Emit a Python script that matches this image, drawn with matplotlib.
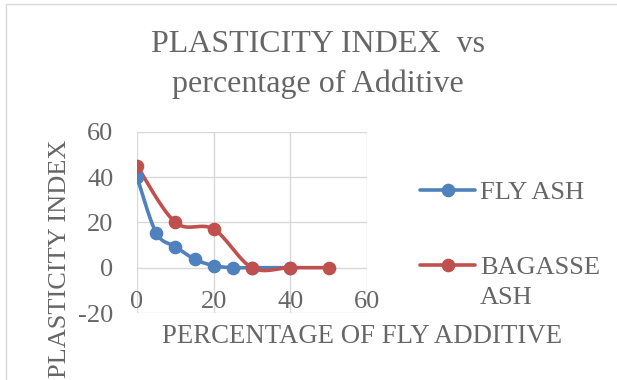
import numpy as np
import matplotlib
matplotlib.use("Agg")
import matplotlib.pyplot as plt
from matplotlib.lines import Line2D
from matplotlib.patches import Rectangle

plt.rcParams["axes.unicode_minus"] = False

# ---- data ----
fly_x = [0, 5, 10, 15, 20, 25, 30, 40]
fly_y = [40, 15.4, 9.3, 3.8, 0.9, 0, 0, 0]
bag_x = [0, 10, 20, 30, 40, 50]
bag_y = [45, 20, 17, 0, 0, 0]
x_ticks = [0, 20, 40, 60]
y_ticks = [-20, 0, 20, 40, 60]
series_names = ["FLY ASH", "BAGASSE\nASH"]
title = "PLASTICITY INDEX  vs\npercentage of Additive"
xlabel = "PERCENTAGE OF FLY ADDITIVE"
ylabel = "PLASTICITY INDEX"

W, H = 617, 380
TXT = "#666666"
GRID = "#d9d9d9"
FONT = ["Liberation Serif", "DejaVu Serif"]
BLUE = "#4F81BD"
RED = "#C0504D"


def smooth(xs, ys, n=30):
    """Excel-like smoothed line (Catmull-Rom Bezier)."""
    P = np.column_stack([xs, ys]).astype(float)
    out = []
    for i in range(len(P) - 1):
        p0 = P[i - 1] if i > 0 else P[i]
        p1 = P[i]
        p2 = P[i + 1]
        p3 = P[i + 2] if i + 2 < len(P) else P[i + 1]
        c1 = p1 + (p2 - p0) / 6.0
        c2 = p2 - (p3 - p1) / 6.0
        t = np.linspace(0, 1, n)[:, None]
        seg = ((1 - t) ** 3) * p1 + 3 * ((1 - t) ** 2) * t * c1 + 3 * (1 - t) * t ** 2 * c2 + t ** 3 * p2
        out.append(seg if i == 0 else seg[1:])
    A = np.vstack(out)
    return A[:, 0], A[:, 1]


fig = plt.figure(figsize=(W / 100, H / 100), dpi=100)
fig.patch.set_facecolor("white")

# chart border
fig.add_artist(Rectangle((6 / W, 0 - 0.1), 1.2, (1 - 4.3 / H) + 0.1,
                         transform=fig.transFigure, fill=False,
                         edgecolor=GRID, linewidth=1.0))

ax = fig.add_axes([137 / W, 1 - 313 / H, (367 - 137) / W, (313 - 131.7) / H])
ax.set_xlim(0, 60)
ax.set_ylim(-20, 60)
ax.set_xticks(x_ticks)
ax.set_yticks(y_ticks)
ax.grid(True, color=GRID, linewidth=1.0)
ax.set_axisbelow(True)
for s in ax.spines.values():
    s.set_visible(False)
ax.spines["bottom"].set_position(("data", 0))
ax.tick_params(length=0, labelsize=19, labelcolor=TXT, pad=17)
for lab in ax.get_xticklabels() + ax.get_yticklabels():
    lab.set_family(FONT)

for xs, ys, c in [(fly_x, fly_y, BLUE), (bag_x, bag_y, RED)]:
    sx, sy = smooth(xs, ys)
    ax.plot(sx, sy, color=c, linewidth=2.6, solid_capstyle="round", zorder=3)
    ax.plot(xs, ys, linestyle="none", marker="o", markersize=8.8, color=c, zorder=4)

# title
fig.text(318 / W, 1 - 29.5 / H, title, ha="center", va="top", fontsize=23,
         color=TXT, family=FONT, linespacing=1.48)

# axis titles
fig.text(362 / W, 1 - 343 / H, xlabel, ha="center", va="baseline",
         fontsize=19.3, color=TXT, family=FONT)
fig.text(60 / W, 1 - 140 / H, ylabel, ha="center", va="top", rotation=90,
         fontsize=19, color=TXT, family=FONT)

# legend (manual); text baseline refers to the last line of each label
for name, c, y, base in [(series_names[0], BLUE, 190, 199), (series_names[1], RED, 264.5, 304)]:
    yy = 1 - y / H
    fig.add_artist(Line2D([420 / W, 447.5 / W, 475 / W], [yy, yy, yy],
                          transform=fig.transFigure, color=c, linewidth=2.6,
                          marker="o", markersize=8.8, markevery=[1],
                          solid_capstyle="round"))
    fig.text(480 / W, 1 - base / H, name, ha="left", va="baseline",
             fontsize=19, color=TXT, family=FONT, linespacing=1.47)

fig.savefig("out.png", dpi=100)
